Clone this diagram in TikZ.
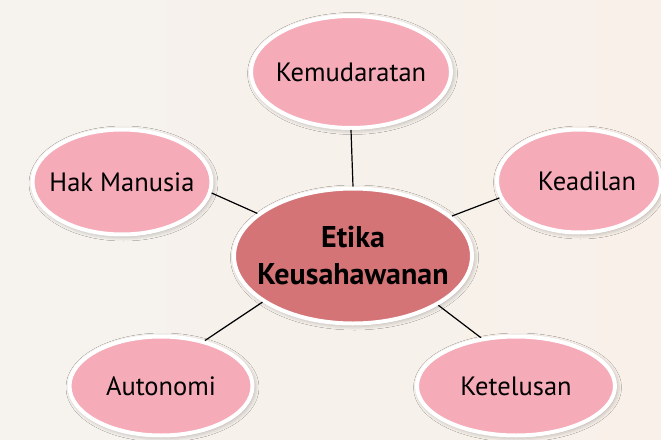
\documentclass[tikz,border=0pt]{standalone}
\usepackage{fontspec}
\setmainfont{PT Sans}
\usetikzlibrary{shapes.geometric,shadows.blur}
\definecolor{bgbeige}{HTML}{F6F2EE}
\definecolor{bgwarm}{HTML}{F8F0E9}
\definecolor{petal}{HTML}{F5ABB8}
\definecolor{hub}{HTML}{D47476}
% zero-width text so the ellipse keeps its own size
\newcommand{\flatlabel}[1]{\makebox[0pt]{#1}}
\tikzset{
  bubble/.style={ellipse, draw=white, line width=4pt, fill=petal, inner sep=0pt,
    font=\fontsize{26.5}{30}\selectfont, text=black,
    blur shadow={shadow xshift=1.5pt, shadow yshift=-1.5pt, shadow blur radius=5pt, shadow opacity=35}},
  hubbox/.style={bubble, fill=hub, align=center,
    font=\fontsize{30}{37}\selectfont\bfseries},
  link/.style={draw=black, line width=1.2pt}
}
\begin{document}
\begin{tikzpicture}[x=1pt,y=-1pt]
  \useasboundingbox (0,0) rectangle (661,439);
  \shade[left color=bgbeige, right color=bgwarm] (0,0) rectangle (661,439);

  % nodes
  \node[hubbox, minimum width=238pt, minimum height=135pt] (hub) at (353,256)
    {\flatlabel{Etika}\\\flatlabel{Keusahawanan}};
  \node[bubble, minimum width=200pt, minimum height=112pt] (kem) at (351,72) {\flatlabel{Kemudaratan}};
  \node[bubble, minimum width=179pt, minimum height=105pt] (hak) at (122,182) {\flatlabel{Hak Manusia}};
  \node[bubble, minimum width=164pt, minimum height=103pt] (kea) at (579,181) {\flatlabel{\hspace*{16pt}Keadilan}};
  \node[bubble, minimum width=183pt, minimum height=99pt] (aut) at (161,386) {\flatlabel{Autonomi}};
  \node[bubble, minimum width=198pt, minimum height=99pt] (ket) at (516,386) {\flatlabel{Ketelusan}};

  % connectors
  \draw[link] (kem.270) -- (hub.90);
  \draw[link] (hak.-7) -- (hub.156);
  \draw[link] (kea.192) -- (hub.22);
  \draw[link] (aut.46) -- (hub.207);
  \draw[link] (ket.126) -- (hub.-30);
\end{tikzpicture}
\end{document}
